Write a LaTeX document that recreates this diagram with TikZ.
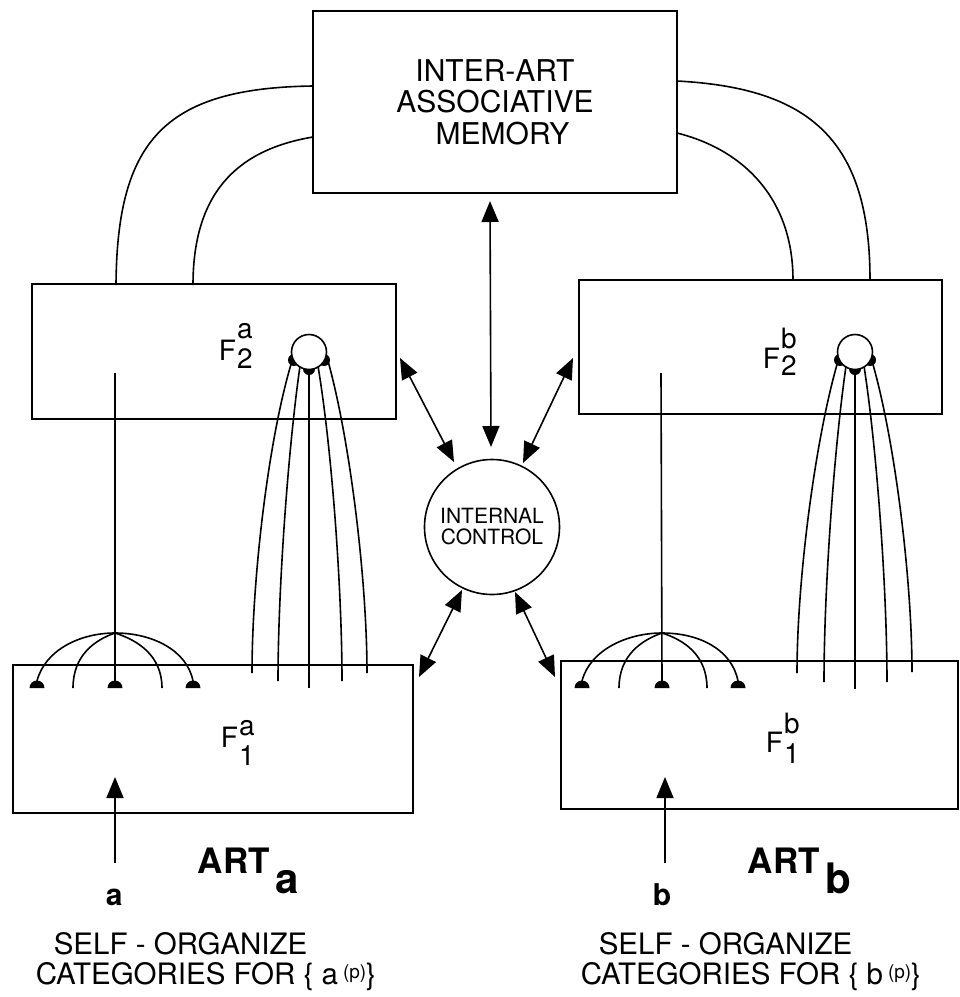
\documentclass[tikz,border=0pt]{standalone}
\usepackage{fontspec}
\setmainfont{TeX Gyre Heros}
\usetikzlibrary{arrows.meta}
\newcommand{\FL}[4]{F\kern0.04em\rlap{\raisebox{#3}{#1}}\raisebox{-#4}{#2}}
\newcommand{\supp}{\raisebox{6pt}{\fontsize{19}{19}\selectfont(p)}}
\begin{document}
\begin{tikzpicture}[x=1pt,y=-1pt,line width=1.6pt,
  box/.style={draw,rectangle,inner sep=0pt},
  flab/.style={anchor=base west,inner sep=0pt,font=\fontsize{28}{28}\selectfont},
  btxt/.style={anchor=base west,inner sep=0pt,font=\fontsize{29.5}{29.5}\selectfont},
  >={Triangle[length=21pt,width=17pt]}]
\useasboundingbox (0,0) rectangle (960,997);

% ---------- boxes ----------
\node[box,minimum width=364pt,minimum height=182pt,align=center,
      font=\fontsize{30}{31.5}\selectfont] (mem) at (495,102)
      {INTER-ART\\ASSOCIATIVE\\\hspace*{0.5em}MEMORY};
\node[box,minimum width=364pt,minimum height=135pt] (f2a) at (214,351.5) {};
\node[box,minimum width=363pt,minimum height=134pt] (f2b) at (760.5,347) {};
\node[box,minimum width=400pt,minimum height=148pt] (f1a) at (213,739) {};
\node[box,minimum width=397pt,minimum height=148pt] (f1b) at (759.5,735) {};

\node[flab] (l2a) at (218,360) {\FL{a}{2}{22pt}{8pt}};
\node[flab] (l2b) at (762,368) {\FL{b}{2}{20pt}{7pt}};
\node[flab] (l1a) at (220,747) {\FL{a}{1}{12pt}{18pt}};
\node[flab] (l1b) at (765,752) {\FL{b}{1}{19pt}{11pt}};

% ---------- curves from the associative memory ----------
\coordinate (mo1) at (313,86);  \coordinate (mi1) at (313,137);
\coordinate (mo2) at (677,81);  \coordinate (mi2) at (677,133);
\coordinate (ao) at (116,285);  \coordinate (ai) at (193,285);
\coordinate (bo) at (870,280);  \coordinate (bi) at (793,280);
\draw (mo1) .. controls (165,88) and (117,140) .. (ao);
\draw (mi1) .. controls (235,150) and (193,195) .. (ai);
\draw (mo2) .. controls (810,88) and (870,140) .. (bo);
\draw (mi2) .. controls (745,150) and (793,200) .. (bi);

% ---------- ART a : F2 -> F1 fan ----------
\draw (292,361) .. controls (268,440) and (252,580) .. (252,673);
\draw (300,366) .. controls (288,450) and (278,590) .. (278,681);
\draw (309,370) -- (309,688);
\draw (318,366) .. controls (332,450) and (342,590) .. (342,681);
\draw (328,361) .. controls (350,440) and (367,580) .. (367,673);
% ART b fan
\draw (838,361) .. controls (815,440) and (797,580) .. (797,673);
\draw (846,366) .. controls (834,450) and (824,590) .. (824,682);
\draw (855,370) -- (855,689);
\draw (864,366) .. controls (877,450) and (887,590) .. (887,682);
\draw (872,361) .. controls (895,440) and (912,580) .. (912,672);

% discs on F2 nodes
\fill (294,360) circle[radius=6pt];
\fill (309,369) circle[radius=6pt];
\fill (324,360) circle[radius=6pt];
\fill (840,360) circle[radius=6pt];
\fill (855,369) circle[radius=6pt];
\fill (870,360) circle[radius=6pt];
\node[circle,draw,fill=white,minimum size=35pt,inner sep=0pt] (c2a) at (309,352) {};
\node[circle,draw,fill=white,minimum size=35pt,inner sep=0pt] (c2b) at (855,352) {};

% ---------- F2 -> F1 top-down line and F1 arcs ----------
\draw (115,373) -- (115,681);
\coordinate (apa) at (115,633);
\draw (apa) .. controls (80,633) and (45,650) .. (37,681);
\draw (apa) .. controls (95,640) and (73,655) .. (73,688);
\draw (apa) .. controls (137,640) and (162,655) .. (162,688);
\draw (apa) .. controls (152,633) and (187,650) .. (193,681);
\foreach \x in {37,115,193} \fill (\x-7.5,688) arc[start angle=180,end angle=0,radius=7.5pt] -- cycle;

\draw (661,373) -- (662,681);
\coordinate (apb) at (662,633);
\draw (apb) .. controls (627,633) and (590,650) .. (582,681);
\draw (apb) .. controls (642,640) and (619,655) .. (619,688);
\draw (apb) .. controls (684,640) and (707,655) .. (707,688);
\draw (apb) .. controls (700,633) and (732,650) .. (738,681);
\foreach \x in {582,662,738} \fill (\x-7.5,688) arc[start angle=180,end angle=0,radius=7.5pt] -- cycle;

% ---------- internal control ----------
\node[circle,draw,minimum size=135pt,inner sep=0pt,align=center,
      font=\fontsize{21}{21}\selectfont] (ctrl) at (492,527) {INTERNAL\\CONTROL};

\coordinate (v1) at (490,201);  \coordinate (v2) at (491,447);
\coordinate (ul1) at (400,358); \coordinate (ul2) at (454,462);
\coordinate (ur1) at (573,358); \coordinate (ur2) at (523,463);
\coordinate (ll1) at (462,590); \coordinate (ll2) at (419,677);
\coordinate (lr1) at (515,592); \coordinate (lr2) at (555,677);
\draw[<->] (v1) -- (v2);
\draw[<->] (ul1) -- (ul2);
\draw[<->] (ur1) -- (ur2);
\draw[<->] (ll1) -- (ll2);
\draw[<->] (lr1) -- (lr2);

% ---------- inputs ----------
\coordinate (ia0) at (115,863); \coordinate (ia1) at (115,777);
\coordinate (ib0) at (665,863); \coordinate (ib1) at (665,777);
\draw[->] (ia0) -- (ia1);
\draw[->] (ib0) -- (ib1);

\node[anchor=base west,inner sep=0pt,font=\bfseries\fontsize{30}{30}\selectfont] (la) at (105,905) {a};
\node[anchor=base west,inner sep=0pt,font=\bfseries\fontsize{30}{30}\selectfont] (lb) at (652,905) {b};

\node[anchor=base west,inner sep=0pt,font=\bfseries\fontsize{35}{35}\selectfont] (arta) at (197,873)
  {ART\kern6pt\raisebox{-20pt}{\fontsize{42}{42}\selectfont a}};
\node[anchor=base west,inner sep=0pt,font=\bfseries\fontsize{35}{35}\selectfont] (artb) at (747,873)
  {ART\kern6pt\raisebox{-20pt}{\fontsize{42}{42}\selectfont b}};

\node[btxt] (sa1) at (53,954) {SELF - ORGANIZE};
\node[btxt] (sa2) at (35,984) {CATEGORIES FOR \{ a\,\supp\}};
\node[btxt] (sb1) at (598,954) {SELF - ORGANIZE};
\node[btxt] (sb2) at (580,984) {CATEGORIES FOR \{ b\,\supp\}};
\end{tikzpicture}
\end{document}
